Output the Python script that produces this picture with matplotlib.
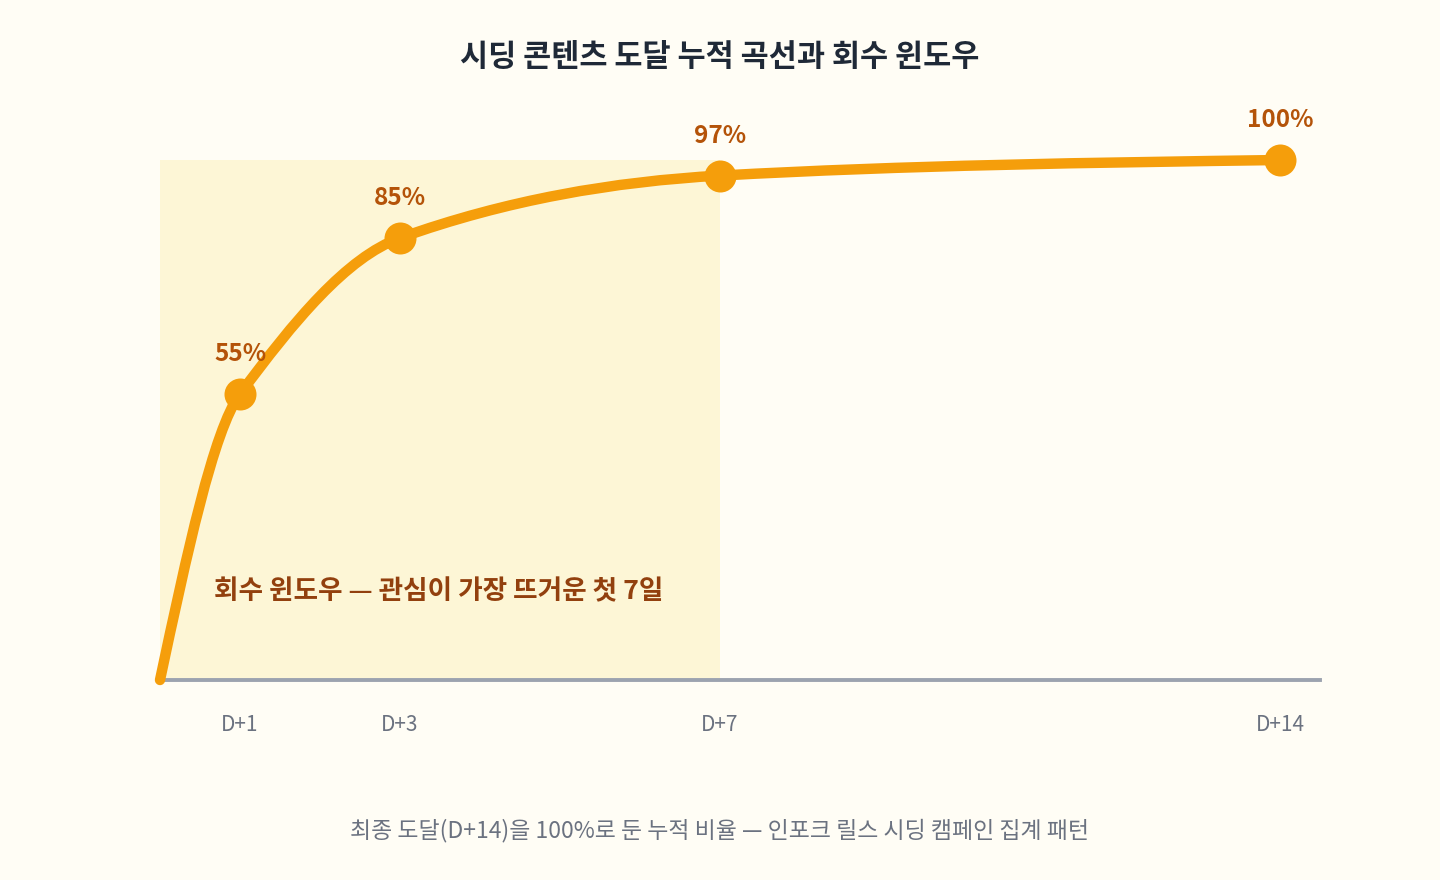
import numpy as np
import matplotlib
matplotlib.use("Agg")
import matplotlib.pyplot as plt
from matplotlib.path import Path
from matplotlib.patches import PathPatch

plt.rcParams['font.family'] = ['Noto Sans CJK KR', 'DejaVu Sans']

# ---- data ----
days = [0, 1, 3, 7, 14]
reach = [0, 55, 85, 97, 100]
marker_days = [1, 3, 7, 14]
marker_reach = [55, 85, 97, 100]
marker_labels = ["55%", "85%", "97%", "100%"]
tick_days = [1, 3, 7, 14]
tick_labels = ["D+1", "D+3", "D+7", "D+14"]
window_start, window_end = 0, 7

title = "시딩 콘텐츠 도달 누적 곡선과 회수 윈도우"
window_text = "회수 윈도우 — 관심이 가장 뜨거운 첫 7일"
footnote = "최종 도달(D+14)을 100%로 둔 누적 비율 — 인포크 릴스 시딩 캠페인 집계 패턴"

BG = "#fffdf5"
AMBER = "#f59e0b"
LABEL = "#b45309"
ANNOT = "#92400e"
SHADE = "#fdf6d6"
AXIS = "#9ca3af"
MUTED = "#6b7280"
TITLE = "#1f2937"


def monotone_path(x, y):
    """Monotone cubic Hermite (Steffen-style limited tangents) as a Bezier path."""
    x = np.asarray(x, float)
    y = np.asarray(y, float)
    n = len(x)
    h = np.diff(x)
    s = np.diff(y) / h
    t = np.zeros(n)
    for i in range(1, n - 1):
        if s[i - 1] * s[i] > 0:
            p = (s[i - 1] * h[i] + s[i] * h[i - 1]) / (h[i - 1] + h[i])
            t[i] = np.sign(s[i]) * min(2 * abs(s[i - 1]), 2 * abs(s[i]), 0.5 * abs(p))
    t[0] = (3 * s[0] - t[1]) / 2
    t[-1] = (3 * s[-1] - t[-2]) / 2
    verts = [(x[0], y[0])]
    codes = [Path.MOVETO]
    for i in range(n - 1):
        dx = (x[i + 1] - x[i]) / 3
        verts += [(x[i] + dx, y[i] + dx * t[i]),
                  (x[i + 1] - dx, y[i + 1] - dx * t[i + 1]),
                  (x[i + 1], y[i + 1])]
        codes += [Path.CURVE4] * 3
    return Path(verts, codes)


fig = plt.figure(figsize=(14.4, 8.8), dpi=100, facecolor=BG)
ax = fig.add_axes([160 / 1440, 1 - 680 / 880, 1160 / 1440, 520 / 880])
ax.set_facecolor(BG)
ax.set_xlim(0, 14.5)
ax.set_ylim(0, 100)
for sp in ax.spines.values():
    sp.set_visible(False)
ax.set_yticks([])

ax.axvspan(window_start, window_end, color=SHADE, zorder=0, lw=0)

ax.axhline(0, color=AXIS, lw=2.8, zorder=2, clip_on=False)

patch = PathPatch(monotone_path(days, reach), fill=False, edgecolor=AMBER,
                  lw=7.5, capstyle='round', joinstyle='round', zorder=3, clip_on=False)
ax.add_patch(patch)

marker_diam_pt = 32 * 72 / 100
ax.scatter(marker_days, marker_reach, s=marker_diam_pt ** 2,
           color=AMBER, zorder=4, clip_on=False, linewidths=0)

for xd, yv, lab in zip(marker_days, marker_reach, marker_labels):
    ax.annotate(lab, (xd, yv), xytext=(0, 28.5), textcoords="offset points",
                ha="center", va="center", fontsize=17.5, fontweight="bold",
                color=LABEL, zorder=5, annotation_clip=False)

ax.set_xticks(tick_days)
ax.set_xticklabels(tick_labels, fontsize=15, color=MUTED)
ax.tick_params(axis='x', length=0, pad=24.5)

ax.text(0.68, 17, window_text, fontsize=19.2, fontweight="bold", color=ANNOT,
        ha="left", va="center", zorder=5)

fig.text(0.5, 1 - 57 / 880, title, fontsize=22, fontweight="bold", color=TITLE,
         ha="center", va="center")
fig.text(0.5, 1 - 831 / 880, footnote, fontsize=16.5, color=MUTED,
         ha="center", va="center")

fig.savefig("out.png", dpi=100, facecolor=BG)
